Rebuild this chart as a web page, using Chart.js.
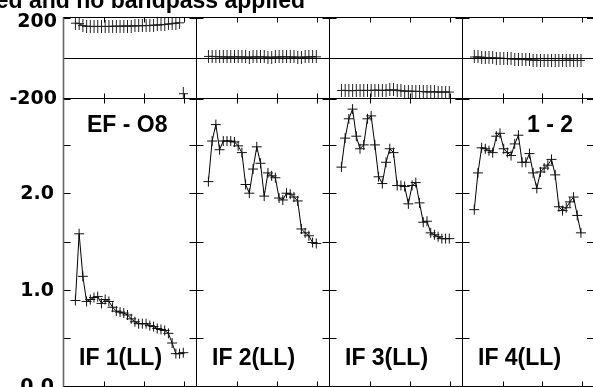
<!DOCTYPE html>
<html>
<head>
<meta charset="utf-8">
<script src="https://cdn.jsdelivr.net/npm/chart.js@4.4.1/dist/chart.umd.min.js"></script>
<style>
    body { margin: 0; background: #fff; overflow: hidden; }
    #wrap { position: relative; width: 593px; height: 387px; overflow: hidden; }
    #wrap canvas { position: absolute; left: 0; top: 0; }
</style>
</head>
<body>
<div id="wrap"></div>
<script>
// channel numbers (x) shared by every IF
const channels = [1, 2, 3, 4, 5, 6, 7, 8, 9, 10, 11, 12, 13, 14, 15,
                  16, 17, 18, 19, 20, 21, 22, 23, 24, 25, 26, 27, 28, 29, 30];

// amplitude per IF
const ampIF1 = [0.89, 1.58, 1.14, 0.88, 0.90, 0.92, 0.93, 0.86, 0.90, 0.88, 0.82, 0.78, 0.77, 0.76, 0.74,
                0.70, 0.67, 0.65, 0.65, 0.65, 0.63, 0.62, 0.60, 0.59, 0.58, 0.55, 0.45, 0.34, 0.34, 0.35];
const ampIF2 = [2.12, 2.54, 2.71, 2.45, 2.54, 2.54, 2.54, 2.53, 2.49, 2.42, 2.09, 2.00, 2.25, 2.48, 2.31,
                1.97, 2.21, 2.18, 2.16, 1.95, 1.93, 2.00, 1.99, 1.96, 1.92, 1.63, 1.59, 1.56, 1.49, 1.48];
const ampIF3 = [2.27, 2.57, 2.77, 2.87, 2.59, 2.46, 2.50, 2.77, 2.80, 2.50, 2.17, 2.10, 2.32, 2.46, 2.42,
                2.08, 2.08, 2.07, 1.89, 2.08, 2.11, 1.90, 1.70, 1.71, 1.59, 1.57, 1.55, 1.53, 1.53, 1.53];
const ampIF4 = [1.83, 2.21, 2.47, 2.46, 2.44, 2.42, 2.59, 2.62, 2.46, 2.42, 2.39, 2.51, 2.60, 2.32, 2.32,
                2.41, 2.21, 2.05, 2.22, 2.26, 2.29, 2.35, 2.19, 1.86, 1.82, 1.85, 1.91, 1.96, 1.77, 1.59];

// phase (degrees) per IF
const phaseIF1 = [172, 170, 160, 157, 156, 156, 156, 156, 156, 156, 157, 157, 157, 158, 158,
                  158, 159, 159, 160, 160, 161, 162, 163, 164, 166, 168, 170, 172, 174, -176];
const phaseIF2 = [8, 8, 7, 6, 6, 5, 5, 6, 6, 5, 5, 4, 5, 5, 6,
                  5, 4, 4, 5, 5, 6, 6, 5, 5, 4, 4, 5, 5, 6, 6];
const phaseIF3 = [-160, -160, -161, -161, -160, -160, -160, -160, -160, -159, -159, -160, -159, -158, -158,
                  -159, -162, -163, -164, -164, -165, -165, -166, -167, -167, -167, -168, -168, -168, -168];
const phaseIF4 = [5, 5, 4, 3, 2, 1, 0, -1, -2, -3, -4, -5, -6, -7, -8,
                  -9, -10, -11, -12, -12, -12, -12, -12, -12, -12, -11, -11, -12, -12, -12];

const ifLabels = ['IF 1(LL)', 'IF 2(LL)', 'IF 3(LL)', 'IF 4(LL)'];
const baselineLabel = 'EF - O8';
const polLabel = '1 - 2';
const titleText = 'ed and no bandpass applied';

const phaseTicks = [-200, 0, 200];
const phaseTickLabels = ['-200', '', '200'];
const ampTicks = [0, 0.5, 1.0, 1.5, 2.0, 2.5];
const ampTickLabels = ['0.0', '', '1.0', '', '2.0', ''];
const chanTicks = [8.7, 19.4, 30.2];

const ampSeries = [ampIF1, ampIF2, ampIF3, ampIF4];
const phaseSeries = [phaseIF1, phaseIF2, phaseIF3, phaseIF4];

// layout of the panel grid (pixels)
const W = 600, H = 395;
const colLeft = [63.5, 196.5, 329.5, 462.5];
const colRight = [196.5, 329.5, 462.5, 596];
const phaseTop = 17.5, rowSplit = 98.5, ampBottom = 386.5;

// tall cross used for phase points
const phaseMark = document.createElement('canvas');
phaseMark.width = 9;
phaseMark.height = 13;
(function() {
    const c = phaseMark.getContext('2d');
    c.strokeStyle = '#222';
    c.lineWidth = 1;
    c.beginPath();
    c.moveTo(4.5, 0); c.lineTo(4.5, 13);
    c.moveTo(0, 6.5); c.lineTo(9, 6.5);
    c.stroke();
})();

const framePlugin = {
    id: 'frame',
    afterDatasetsDraw(chart, args, opts) {
        const { ctx, chartArea: a, scales: { x, y } } = chart;
        ctx.save();
        ctx.strokeStyle = '#000';
        ctx.lineWidth = 1;
        ctx.strokeRect(a.left, a.top, a.right - a.left, a.bottom - a.top);
        ctx.beginPath();
        chanTicks.forEach(v => {
            const px = Math.round(x.getPixelForValue(v)) + 0.5;
            ctx.moveTo(px, a.top); ctx.lineTo(px, a.top + 5);
            ctx.moveTo(px, a.bottom); ctx.lineTo(px, a.bottom - 5);
        });
        opts.yTicks.forEach(v => {
            const py = Math.round(y.getPixelForValue(v)) + 0.5;
            ctx.moveTo(a.left, py); ctx.lineTo(a.left + 7, py);
            ctx.moveTo(a.right, py); ctx.lineTo(a.right - 7, py);
        });
        ctx.stroke();
        if (opts.zeroLine) {
            const py = Math.round(y.getPixelForValue(0)) + 0.5;
            ctx.beginPath();
            ctx.moveTo(a.left, py); ctx.lineTo(a.right, py);
            ctx.stroke();
        }
        if (opts.col === 0) {
            // outer left border looks a bit heavier and grey
            ctx.strokeStyle = '#666';
            ctx.lineWidth = 1.6;
            ctx.beginPath();
            ctx.moveTo(a.left, a.top); ctx.lineTo(a.left, a.bottom);
            ctx.stroke();
            ctx.fillStyle = '#000';
            ctx.font = 'bold 19px "DejaVu Sans"';
            ctx.textAlign = 'right';
            ctx.textBaseline = 'middle';
            opts.yTicks.forEach((v, i) => {
                const txt = opts.yLabels[i];
                if (!txt) return;
                let py = y.getPixelForValue(v);
                if (opts.zeroLine && v === 200) py += 4;
                ctx.fillText(txt, opts.zeroLine ? 57 : 54, py + 1);
            });
        }
        ctx.fillStyle = '#000';
        ctx.font = 'bold 23px "Liberation Sans", Arial, sans-serif';
        ctx.textBaseline = 'alphabetic';
        (opts.texts || []).forEach(t => {
            ctx.textAlign = t.align;
            ctx.fillText(t.text, t.x, t.y);
        });
        ctx.restore();
    }
};

function makePanel(col, kind) {
    const wrap = document.getElementById('wrap');
    const canvas = document.createElement('canvas');
    canvas.width = W;
    canvas.height = H;
    wrap.appendChild(canvas);

    const isPhase = kind === 'phase';
    const values = isPhase ? phaseSeries[col] : ampSeries[col];
    const top = isPhase ? phaseTop : rowSplit;
    const bottom = isPhase ? rowSplit : ampBottom;
    const left = colLeft[col], right = colRight[col];

    const texts = [];
    if (!isPhase) {
        texts.push({ text: ifLabels[col], x: left + 15.5, y: 365, align: 'left' });
        if (col === 0) texts.push({ text: baselineLabel, x: left + 23.5, y: 132, align: 'left' });
        if (col === 3) texts.push({ text: polLabel, x: 573, y: 132, align: 'right' });
    } else if (col === 0) {
        texts.push({ text: titleText, x: 305, y: 8, align: 'right' });
    }

    new Chart(canvas.getContext('2d'), {
        type: 'line',
        data: {
            datasets: [{
                data: channels.map((c, i) => ({ x: c, y: values[i] })),
                borderColor: '#000',
                borderWidth: 1,
                tension: 0,
                pointStyle: isPhase ? phaseMark : 'cross',
                pointRadius: 5,
                pointBorderWidth: 1,
                pointBorderColor: '#111',
                segment: isPhase ? {
                    borderColor: ctx => Math.abs(ctx.p0.parsed.y - ctx.p1.parsed.y) > 180 ? 'rgba(0,0,0,0)' : '#000'
                } : undefined
            }]
        },
        options: {
            responsive: false,
            animation: false,
            events: [],
            layout: { padding: { left: left, right: W - right, top: top, bottom: H - bottom } },
            scales: {
                x: { type: 'linear', display: false, min: -2.2, max: 33.55 },
                y: isPhase ? { display: false, min: -200, max: 200 } : { display: false, min: 0, max: 2.98 }
            },
            plugins: {
                legend: { display: false },
                tooltip: { enabled: false },
                frame: {
                    col: col,
                    zeroLine: isPhase,
                    yTicks: isPhase ? phaseTicks : ampTicks,
                    yLabels: isPhase ? phaseTickLabels : ampTickLabels,
                    texts: texts
                }
            }
        },
        plugins: [framePlugin]
    });
}

[0, 1, 2, 3].forEach(col => {
    makePanel(col, 'phase');
    makePanel(col, 'amp');
});
</script>
</body>
</html>
